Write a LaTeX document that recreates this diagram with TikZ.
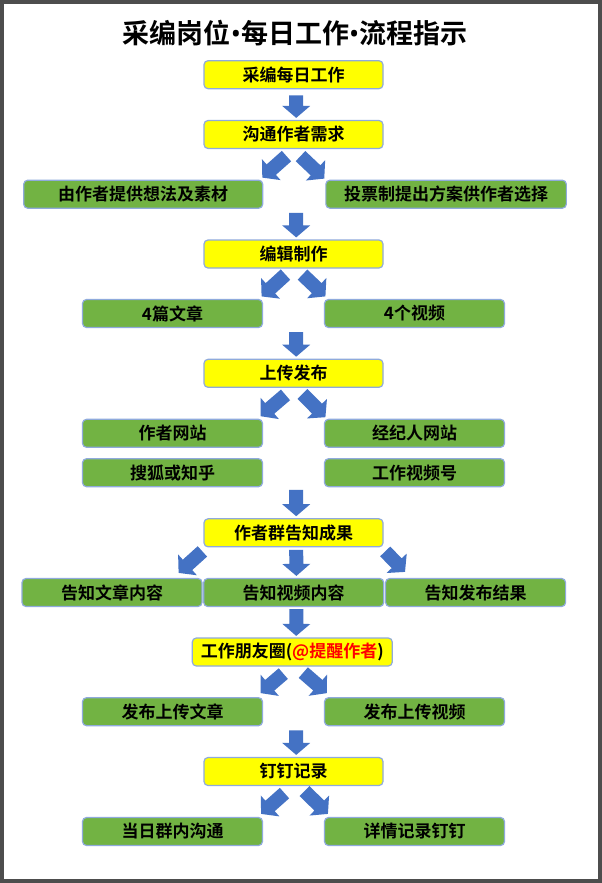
\documentclass[tikz,border=0pt]{standalone}
\usepackage{fontspec}
\setmainfont{Noto Sans CJK SC}[BoldFont={Noto Sans CJK SC Bold}]
\newfontfamily\latinsans{Noto Sans}
\usetikzlibrary{calc}
\definecolor{boxyellow}{HTML}{FFFF00}
\definecolor{boxgreen}{HTML}{72B343}
\definecolor{boxedge}{HTML}{8FAADC}
\definecolor{arrowblue}{HTML}{4472C4}
\definecolor{framegray}{HTML}{4D4D4D}
\definecolor{alertred}{HTML}{FF0000}
\newcommand\tdot{{\latinsans\bfseries •}}
\tikzset{
  box/.style={draw=boxedge, line width=1.2pt, rounded corners=4pt, minimum height=28pt,
    inner sep=0pt, font=\bfseries\fontsize{17pt}{20pt}\selectfont, text=black},
  ybox/.style={box, fill=boxyellow, minimum width=179pt},
  gbox/.style={box, fill=boxgreen, minimum width=180pt},
  titletext/.style={font=\bfseries\fontsize{27pt}{31pt}\selectfont, inner sep=0pt}
}
\newcommand\blockarr[2]{%
  \coordinate (ba-T) at #1;
  \coordinate (ba-P) at #2;
  \coordinate (ba-H) at ($(ba-P)!12pt!(ba-T)$);
  \fill[arrowblue] ($(ba-T)!7pt!90:(ba-P)$) -- ($(ba-H)!7pt!90:(ba-P)$) -- ($(ba-H)!14pt!90:(ba-P)$)
    -- (ba-P) -- ($(ba-H)!14pt!-90:(ba-P)$) -- ($(ba-H)!7pt!-90:(ba-P)$) -- ($(ba-T)!7pt!-90:(ba-P)$) -- cycle;
}
\begin{document}
\begin{tikzpicture}[x=1pt, y=-1pt]
\useasboundingbox (0,0) rectangle (602,883);
\fill[white] (0,0) rectangle (602,883);
\draw[framegray, line width=4pt] (2,2) rectangle (600,881);

\node[titletext] (title) at (295,33) {采编岗位\tdot 每日工作\tdot 流程指示};

\node[ybox] (y1) at (293.5,74.7) {采编每日工作};
\node[ybox] (y2) at (293.5,134.5) {沟通作者需求};
\node[gbox, minimum width=239pt] (g1a) at (143.2,194.2) {由作者提供想法及素材};
\node[gbox, minimum width=240.5pt] (g1b) at (446.1,194.2) {投票制提出方案供作者选择};
\node[ybox] (y3) at (293.5,254) {编辑制作};
\node[gbox] (g2a) at (172.5,313.5) {4篇文章};
\node[gbox] (g2b) at (414.5,313.5) {4个视频};
\node[ybox] (y4) at (293.5,373.3) {上传发布};
\node[gbox] (g3a) at (172.5,433.3) {作者网站};
\node[gbox] (g3b) at (414.5,433.3) {经纪人网站};
\node[gbox] (g4a) at (172.5,472.7) {搜狐或知乎};
\node[gbox] (g4b) at (414.5,472.7) {工作视频号};
\node[ybox] (y5) at (293.5,532.8) {作者群告知成果};
\node[gbox] (g5a) at (112,592.5) {告知文章内容};
\node[gbox] (g5b) at (293.7,592.5) {告知视频内容};
\node[gbox] (g5c) at (475.6,592.5) {告知发布结果};
\node[ybox, minimum width=200pt] (y6) at (292.3,652) {工作朋友圈(\textcolor{alertred}{@提醒作者})};
\node[gbox] (g6a) at (172.5,711.7) {发布上传文章};
\node[gbox] (g6b) at (414.5,711.7) {发布上传视频};
\node[ybox] (y7) at (293.5,771.5) {钉钉记录};
\node[gbox] (g7a) at (172.5,831.5) {当日群内沟通};
\node[gbox] (g7b) at (414.5,831.5) {详情记录钉钉};

% straight down arrows
\blockarr{($(y1.south)+(2.7,6)$)}{($(y2.north)+(2.7,-2)$)}
\blockarr{($(y3.north|-g1a.south)+(2.7,4)$)}{($(y3.north)+(2.7,-2)$)}
\blockarr{($(y4.north|-g2a.south)+(2.7,4)$)}{($(y4.north)+(2.7,-2)$)}
\blockarr{($(y5.north|-g4a.south)+(2.7,2.5)$)}{($(y5.north)+(2.7,-2)$)}
\blockarr{($(y5.south)+(2.7,2.5)$)}{($(g5b.north)+(2.7,-2)$)}
\blockarr{($(g5b.south)+(2.7,2)$)}{($(y6.north)+(3.9,-1.5)$)}
\blockarr{($(y7.north|-g6a.south)+(2.7,4)$)}{($(y7.north)+(2.7,-2)$)}

% diagonal arrows
\blockarr{($(y2.south)+(-7,7)$)}{($(g1a.north east)+(-1,-2)$)}
\blockarr{($(y2.south)+(7,7)$)}{($(g1b.north west)+(-1,-1)$)}
\blockarr{($(y3.south)+(-8,6)$)}{($(g2a.north east)+(-1.5,-2.5)$)}
\blockarr{($(y3.south)+(9,6)$)}{($(g2b.north west)+(1.5,-2.5)$)}
\blockarr{($(y4.south)+(-8,7)$)}{($(g3a.north east)+(-2.5,-2.5)$)}
\blockarr{($(y4.south)+(9,6)$)}{($(g3b.north west)+(1.5,-1.5)$)}
\blockarr{($(y5.south west)+(-1,4)$)}{($(g5a.north east)+(-24,-5)$)}
\blockarr{($(y5.south east)+(1.6,4)$)}{($(g5c.north west)+(20,-6)$)}
\blockarr{($(y6.south)+(-9,7)$)}{($(g6a.north east)+(-2.5,-4)$)}
\blockarr{($(y6.south)+(11,6)$)}{($(g6b.north west)+(3,-4)$)}
\blockarr{($(y7.south)+(-9,7)$)}{($(g7a.north east)+(-2,-3)$)}
\blockarr{($(y7.south)+(11,5)$)}{($(g7b.north west)+(4,-3)$)}
\end{tikzpicture}
\end{document}
